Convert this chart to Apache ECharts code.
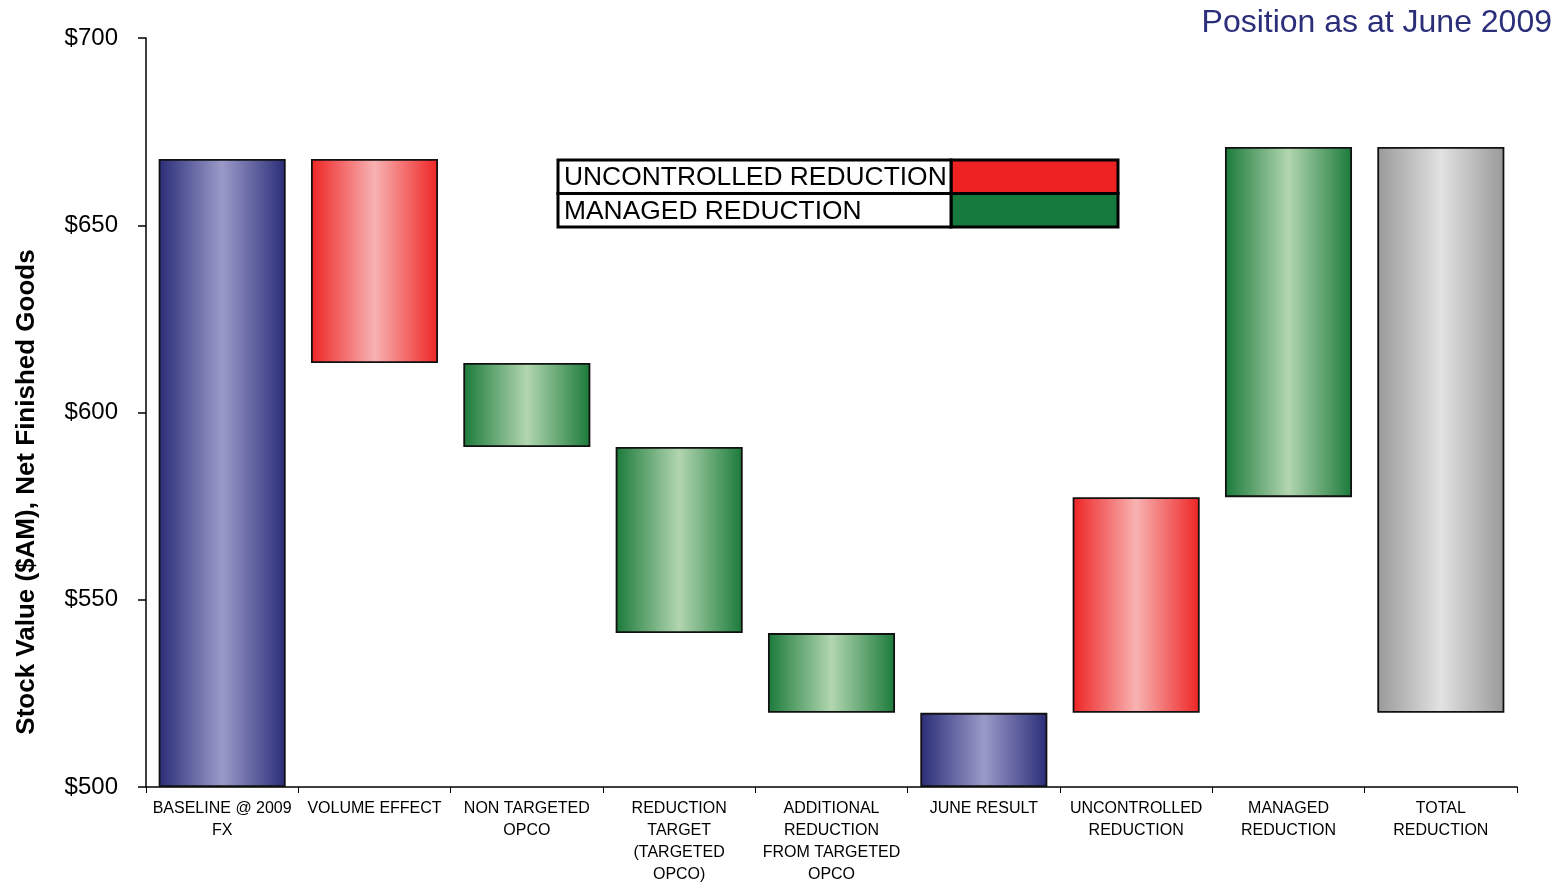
<!DOCTYPE html>
<html>
<head>
<meta charset="utf-8">
<script src="https://cdn.jsdelivr.net/npm/echarts@6/dist/echarts.min.js"></script>
<style>
html,body{margin:0;padding:0;background:#fff;}
#chart{width:1563px;height:890px;}
</style>
</head>
<body>
<div id="chart"></div>
<script>
// ---- data ----
const categories = [
  'BASELINE @ 2009\nFX',
  'VOLUME EFFECT',
  'NON TARGETED\nOPCO',
  'REDUCTION\nTARGET\n(TARGETED\nOPCO)',
  'ADDITIONAL\nREDUCTION\nFROM TARGETED\nOPCO',
  'JUNE RESULT',
  'UNCONTROLLED\nREDUCTION',
  'MANAGED\nREDUCTION',
  'TOTAL\nREDUCTION'
];
const barLows  = [500.0, 613.2, 590.8, 541.1, 519.8, 500.0, 519.8, 577.4, 519.8];
const barHighs = [667.7, 667.7, 613.2, 590.8, 541.1, 519.8, 577.4, 670.9, 670.9];
const barKinds = ['result','uncontrolled','managed','managed','managed','result','uncontrolled','managed','total'];
const yTicks = [500, 550, 600, 650, 700];
const legendItems = ['UNCONTROLLED REDUCTION', 'MANAGED REDUCTION'];
const titleText = 'Position as at June 2009';
const yAxisTitle = 'Stock Value ($AM), Net Finished Goods';

// ---- styles ----
function grad(edgeL, mid, edgeR) {
  return new echarts.graphic.LinearGradient(0, 0, 1, 0, [
    {offset: 0, color: edgeL},
    {offset: 0.5, color: mid},
    {offset: 1, color: edgeR}
  ]);
}
const kindFill = {
  result: grad('#2a2d78', '#9a9ac8', '#2a2d78'),
  uncontrolled: grad('#ee2424', '#f8b2b2', '#ee2424'),
  managed: grad('#1b7a3a', '#b2d6b0', '#1b7a3a'),
  total: grad('#999999', '#e2e2e2', '#999999')
};
const legendColors = ['#ee2222', '#157a3c'];

const baseData = barLows.map(v => v);
const deltaData = barHighs.map((h, i) => ({
  value: +(h - barLows[i]).toFixed(2),
  itemStyle: {color: kindFill[barKinds[i]]}
}));

const chart = echarts.init(document.getElementById('chart'), null, {renderer: 'canvas'});
const FONT = '"Liberation Sans", Arial, sans-serif';

// legend table geometry
const L = {x: 558, y: 160, w: 560, h: 67, split: 393};
const rowH = L.h / 2;
const legendGraphics = [];
legendItems.forEach((t, i) => {
  legendGraphics.push({
    type: 'rect',
    shape: {x: L.x + L.split, y: L.y + i * rowH, width: L.w - L.split, height: rowH},
    style: {fill: legendColors[i], stroke: '#000', lineWidth: 3}
  });
  legendGraphics.push({
    type: 'rect',
    shape: {x: L.x, y: L.y + i * rowH, width: L.split, height: rowH},
    style: {fill: '#fff', stroke: '#000', lineWidth: 3}
  });
  legendGraphics.push({
    type: 'text',
    x: L.x + 6, y: L.y + i * rowH + rowH / 2 + 1,
    style: {text: t, fill: '#000', font: '26.4px ' + FONT, textVerticalAlign: 'middle', verticalAlign: 'middle'}
  });
});

chart.setOption({
  animation: false,
  backgroundColor: '#fff',
  grid: {left: 146, right: 46, top: 38, bottom: 103, containLabel: false},
  xAxis: {
    type: 'category',
    data: categories,
    axisLine: {lineStyle: {color: '#000', width: 1.5}},
    axisTick: {show: true, length: 6, lineStyle: {color: '#000', width: 1}},
    axisLabel: {
      interval: 0, margin: 11, color: '#000',
      fontFamily: FONT, fontSize: 16, lineHeight: 22
    }
  },
  yAxis: {
    type: 'value',
    min: yTicks[0], max: yTicks[yTicks.length - 1], interval: yTicks[1] - yTicks[0],
    axisLine: {show: true, lineStyle: {color: '#000', width: 1.5}},
    axisTick: {show: true, length: 8, lineStyle: {color: '#000', width: 1.5}},
    splitLine: {show: false},
    axisLabel: {
      margin: 28, color: '#000', fontFamily: FONT, fontSize: 24,
      formatter: v => '$' + v
    }
  },
  series: [
    {
      type: 'bar', stack: 'w', data: baseData, silent: true,
      itemStyle: {color: 'rgba(0,0,0,0)', borderWidth: 0},
      barCategoryGap: '16.6%'
    },
    {
      type: 'bar', stack: 'w', data: deltaData,
      itemStyle: {borderColor: '#111', borderWidth: 1.8},
      barCategoryGap: '16.6%'
    }
  ],
  graphic: [
    {
      type: 'text', right: 11, top: 7,
      style: {text: titleText, fill: '#2b2f7a', font: '32px ' + FONT}
    },
    {
      type: 'text', x: 27, y: 492, rotation: Math.PI / 2,
      style: {text: yAxisTitle, fill: '#000', font: 'bold 26px ' + FONT, align: 'center', verticalAlign: 'middle', textAlign: 'center', textVerticalAlign: 'middle'}
    }
  ].concat(legendGraphics)
});
</script>
</body>
</html>
